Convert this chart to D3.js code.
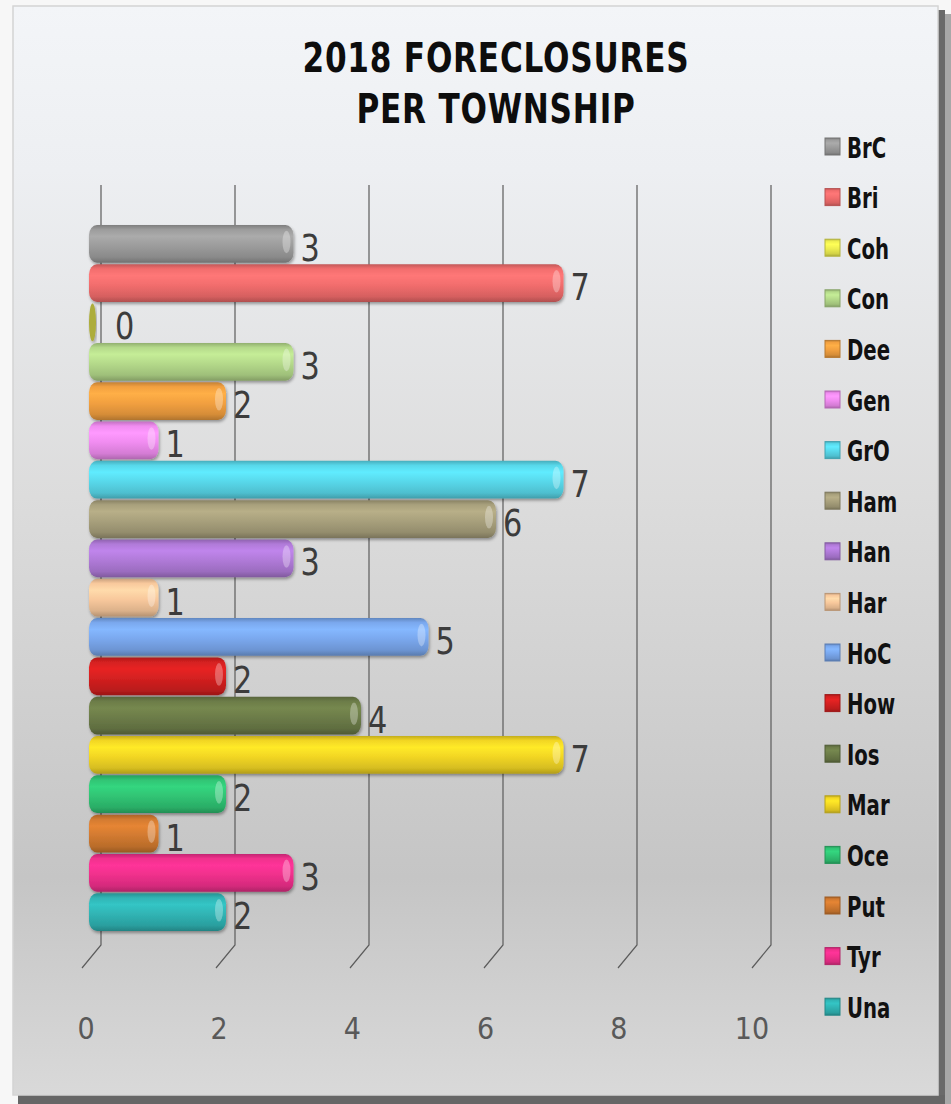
<!DOCTYPE html>
<html>
<head>
<meta charset="utf-8">
<script src="https://cdn.jsdelivr.net/npm/d3@7"></script>
<style>
  body { margin: 0; background: #ffffff; }
  svg text { font-family: 'DejaVu Sans', sans-serif; }
</style>
</head>
<body>
<div id="chart"></div>
<script>
'use strict'

// DATA
var townships = ['BrC', 'Bri', 'Coh', 'Con', 'Dee', 'Gen', 'GrO', 'Ham', 'Han',
  'Har', 'HoC', 'How', 'Ios', 'Mar', 'Oce', 'Put', 'Tyr', 'Una'];
var foreclosures = [3, 7, 0, 3, 2, 1, 7, 6, 3, 1, 5, 2, 4, 7, 2, 1, 3, 2];
var barColors = ['#9c9c9c', '#f26d6d', '#eeee50', '#b4d98a', '#f2a040', '#f08cf0',
  '#58d8ea', '#a8a07c', '#b07ad8', '#f8c89c', '#7aa8ee', '#d42020',
  '#6c7c48', '#f2d624', '#30c474', '#d27a30', '#f0308c', '#30b4b4'];
var tickValues = [0, 2, 4, 6, 8, 10];
var chartTitle = ['2018 FORECLOSURES', 'PER TOWNSHIP'];

// DISPLAY SETTINGS
var WIDTH = 951, HEIGHT = 1104;
var GRID_TOP = 185, GRID_BOTTOM = 945;
var FLOOR_DX = -19, FLOOR_DY = 23;
var NARROW = 0.82; // squeeze DejaVu so it reads like the narrow original font

var svg = d3.select('#chart').append('svg')
  .attr('width', WIDTH).attr('height', HEIGHT);

var defs = svg.append('defs');

// panel background
var bg = defs.append('linearGradient').attr('id', 'panel-bg')
  .attr('x1', 0).attr('y1', 0).attr('x2', 0).attr('y2', 1);
[['0%', '#f3f5f8'], ['15%', '#edeff2'], ['45%', '#dcdcdc'], ['80%', '#c5c5c5'], ['100%', '#d9d9d9']]
  .forEach(function (s) { bg.append('stop').attr('offset', s[0]).attr('stop-color', s[1]); });

var shadow = defs.append('filter').attr('id', 'bar-shadow')
  .attr('x', '-5%').attr('y', '-20%').attr('width', '115%').attr('height', '160%');
shadow.append('feDropShadow').attr('dx', 1).attr('dy', 2)
  .attr('stdDeviation', 1.5).attr('flood-opacity', 0.35);

// cylinder gradients, one per colour
barColors.forEach(function (c, i) {
  var base = d3.color(c);
  var g = defs.append('linearGradient').attr('id', 'cyl-' + i)
    .attr('x1', 0).attr('y1', 0).attr('x2', 0).attr('y2', 1);
  g.append('stop').attr('offset', '0%').attr('stop-color', base.darker(0.6));
  g.append('stop').attr('offset', '12%').attr('stop-color', base);
  g.append('stop').attr('offset', '30%').attr('stop-color', base.brighter(0.25));
  g.append('stop').attr('offset', '55%').attr('stop-color', base);
  g.append('stop').attr('offset', '85%').attr('stop-color', base.darker(0.35));
  g.append('stop').attr('offset', '100%').attr('stop-color', base.darker(0.9));
});

// outer frame + shadow
svg.append('rect').attr('x', 0).attr('y', 0).attr('width', WIDTH).attr('height', HEIGHT).attr('fill', '#f7f7f7');
svg.append('rect').attr('x', 938).attr('y', 10).attr('width', 7).attr('height', 1092).attr('fill', '#6a6a6a');
svg.append('rect').attr('x', 945).attr('y', 14).attr('width', 6).attr('height', 1090).attr('fill', '#a8a8a8');
svg.append('rect').attr('x', 18).attr('y', 1095).attr('width', 927).attr('height', 9).attr('fill', '#666666');
svg.append('rect').attr('x', 13).attr('y', 6).attr('width', 925).attr('height', 1089)
  .attr('fill', 'url(#panel-bg)').attr('stroke', '#d4d4d4').attr('stroke-width', 1.5);

// title
svg.append('g').selectAll('text')
  .data(chartTitle)
  .enter()
  .append('text')
  .text(function (d) { return d; })
  .attr('transform', function (d, i) { return 'translate(496,' + (72 + i * 51) + ') scale(0.76,1)'; })
  .attr('text-anchor', 'middle')
  .attr('font-size', '41px')
  .attr('font-weight', 'bold')
  .attr('letter-spacing', '1px')
  .attr('fill', '#0d0d0d');

// SCALES
var xGrid = d3.scaleLinear().domain([0, 10]).range([101, 771]);
var xBar = d3.scaleLinear().domain([0, 10]).range([91, 766]);
var xTick = d3.scaleLinear().domain([0, 10]).range([86, 752]);
var y = d3.scaleBand().domain(townships).range([225, 931]).paddingInner(0.04);

// gridlines with the slanted floor part
var grid = svg.append('g').attr('class', 'grid');
grid.selectAll('path')
  .data(tickValues)
  .enter()
  .append('path')
  .attr('d', function (d) {
    var gx = xGrid(d);
    return 'M' + gx + ',' + GRID_TOP + 'L' + gx + ',' + GRID_BOTTOM +
      'L' + (gx + FLOOR_DX) + ',' + (GRID_BOTTOM + FLOOR_DY);
  })
  .attr('fill', 'none')
  .attr('stroke', '#5c5c5c')
  .attr('stroke-width', 1.2);

// tick labels
svg.append('g').selectAll('text')
  .data(tickValues)
  .enter()
  .append('text')
  .text(function (d) { return d; })
  .attr('transform', function (d) { return 'translate(' + xTick(d) + ',1039) scale(0.9,1)'; })
  .attr('text-anchor', 'middle')
  .attr('font-size', '30px')
  .attr('fill', '#595959');

// bars
var data = townships.map(function (t, i) { return { name: t, value: foreclosures[i], idx: i }; });
var BAR_H = y.bandwidth();

var bars = svg.append('g').attr('class', 'bars').selectAll('g')
  .data(data)
  .enter()
  .append('g')
  .attr('filter', 'url(#bar-shadow)');

bars.append('rect')
  .attr('x', xBar(0) - 2)
  .attr('y', function (d) { return y(d.name); })
  .attr('width', function (d) { return Math.max(xBar(d.value) - xBar(0) + 2, 7); })
  .attr('height', BAR_H)
  .attr('rx', function (d) { return d.value === 0 ? 3.5 : 8; })
  .attr('ry', function (d) { return d.value === 0 ? BAR_H / 2 : 10; })
  .attr('fill', function (d) { return d.value === 0 ? d3.color(barColors[d.idx]).darker(0.9) : 'url(#cyl-' + d.idx + ')'; });

// end cap highlight
bars.filter(function (d) { return d.value > 0; })
  .append('ellipse')
  .attr('cx', function (d) { return xBar(d.value) - 7; })
  .attr('cy', function (d) { return y(d.name) + BAR_H * 0.45; })
  .attr('rx', 4)
  .attr('ry', BAR_H * 0.3)
  .attr('fill', '#ffffff')
  .attr('opacity', 0.3);

// value labels
svg.append('g').selectAll('text')
  .data(data)
  .enter()
  .append('text')
  .text(function (d) { return d.value; })
  .attr('transform', function (d) {
    var lx = Math.max(xBar(d.value) + 7, xBar(0) + 24);
    var ly = y(d.name) + BAR_H / 2 + 17;
    return 'translate(' + lx + ',' + ly + ') scale(' + NARROW + ',1)';
  })
  .attr('font-size', '37px')
  .attr('fill', '#3c3c3c');

// legend
var legend = svg.append('g').attr('class', 'legend').selectAll('g')
  .data(data)
  .enter()
  .append('g')
  .attr('transform', function (d, i) { return 'translate(825,' + (147 + i * 50.6) + ')'; });

legend.append('rect')
  .attr('x', 0).attr('y', -9)
  .attr('width', 15).attr('height', 17)
  .attr('fill', function (d) { return 'url(#cyl-' + d.idx + ')'; })
  .attr('stroke', function (d) { return d3.color(barColors[d.idx]).darker(0.8); })
  .attr('stroke-width', 1);

legend.append('text')
  .text(function (d) { return d.name; })
  .attr('transform', 'translate(22,10.5) scale(0.68,1)')
  .attr('font-size', '29px')
  .attr('font-weight', 'bold')
  .attr('fill', '#111111');
</script>
</body>
</html>
